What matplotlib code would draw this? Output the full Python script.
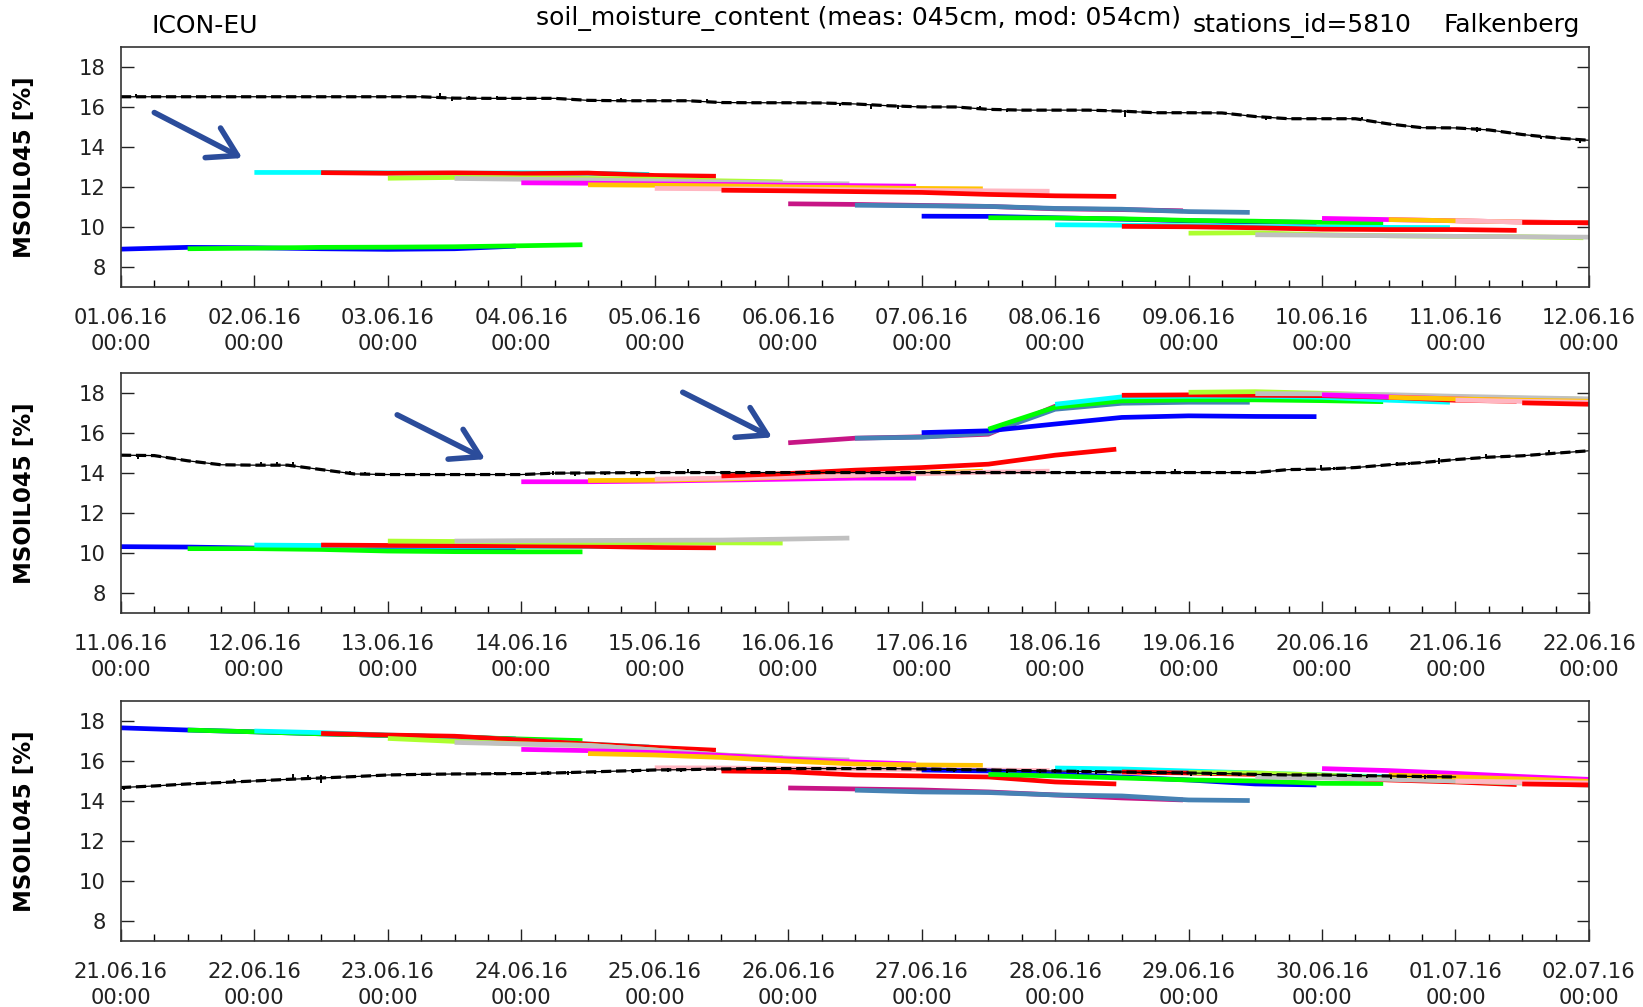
import numpy as np
import matplotlib
matplotlib.use('Agg')
import matplotlib.pyplot as plt
import matplotlib.dates as mdates

plt.rcParams['font.family'] = 'DejaVu Sans'

# colour of a forecast run, cycling every 12 runs (runs every 12 h)
run_colors = ['#0000ff', '#00ff00', '#00ffff', '#ff0000', '#adff2f', '#c0c0c0',
              '#ff00ff', '#ffc400', '#ffb6c1', '#ff0000', '#c71585', '#4682b4']
lead_hours = [0, 12, 24, 36, 48, 60, 71]
panel_starts = ['2016-06-01', '2016-06-11', '2016-06-21']

# station measurements, every 6 h from panel start
meas_p1 = [16.51, 16.51, 16.51, 16.51, 16.51, 16.51, 16.51, 16.51, 16.51, 16.51,
           16.44, 16.43, 16.43, 16.43, 16.33, 16.31, 16.31, 16.31, 16.22, 16.21,
           16.21, 16.20, 16.15, 16.06, 16.00, 16.00, 15.88, 15.84, 15.84, 15.84,
           15.79, 15.71, 15.71, 15.70, 15.52, 15.41, 15.41, 15.41, 15.15, 14.96,
           14.95, 14.85, 14.62, 14.45, 14.33]
meas_p2 = [14.90, 14.88, 14.62, 14.42, 14.40, 14.40, 14.18, 13.96, 13.93, 13.93,
           13.93, 13.93, 13.93, 14.00, 14.01, 14.02, 14.03, 14.03, 14.03, 14.03,
           14.03, 14.03, 14.03, 14.03, 14.03, 14.03, 14.03, 14.03, 14.03, 14.03,
           14.03, 14.03, 14.03, 14.03, 14.03, 14.18, 14.20, 14.28, 14.42, 14.53,
           14.68, 14.80, 14.87, 15.00, 15.12]
meas_p3 = [14.67, 14.75, 14.85, 14.92, 15.00, 15.08, 15.15, 15.22, 15.30, 15.33,
           15.35, 15.36, 15.37, 15.40, 15.45, 15.50, 15.55, 15.57, 15.60, 15.62,
           15.62, 15.62, 15.62, 15.62, 15.60, 15.57, 15.55, 15.52, 15.50, 15.47,
           15.45, 15.42, 15.40, 15.37, 15.33, 15.30, 15.30, 15.27, 15.25, 15.22,
           15.20]

# short spikes in the measured series: (day, low, high)
spikes_p1 = [(0.11, 16.51, 16.63), (2.39, 16.51, 16.68), (2.48, 16.31, 16.51),
             (2.61, 16.43, 16.56), (2.82, 16.43, 16.53), (3.75, 16.31, 16.46),
             (4.39, 16.26, 16.39), (5.39, 16.06, 16.22), (5.62, 15.92, 16.17),
             (5.82, 15.92, 16.09), (6.44, 15.90, 16.05), (6.64, 15.76, 15.88),
             (7.52, 15.50, 15.84), (8.58, 15.34, 15.50), (9.30, 15.35, 15.50),
             (10.16, 14.75, 15.00), (10.64, 14.38, 14.55), (10.93, 14.21, 14.38)]
spikes_p2 = [(0.13, 14.70, 14.90), (1.05, 14.40, 14.55), (1.17, 14.40, 14.55),
             (1.29, 14.38, 14.55), (1.72, 13.90, 14.10), (1.83, 13.90, 14.05),
             (3.24, 13.93, 14.10), (3.40, 13.87, 14.05), (3.63, 13.93, 14.08),
             (3.87, 13.87, 14.12), (4.25, 14.03, 14.20), (7.90, 13.98, 14.20),
             (7.97, 13.98, 14.12), (8.99, 14.15, 14.40), (9.09, 14.15, 14.30),
             (9.56, 14.36, 14.58), (9.65, 14.40, 14.58), (9.88, 14.48, 14.75),
             (10.23, 14.75, 14.95), (10.70, 14.92, 15.15), (10.91, 15.00, 15.18)]
spikes_p3 = [(0.02, 14.53, 14.70), (0.23, 14.68, 14.82), (0.85, 14.92, 15.08),
             (1.29, 15.15, 15.37), (1.40, 15.15, 15.32), (1.50, 14.92, 15.30),
             (2.29, 15.25, 15.42), (2.50, 15.28, 15.42), (2.80, 15.28, 15.45),
             (3.00, 15.30, 15.45), (3.20, 15.30, 15.48), (3.35, 15.32, 15.50),
             (3.55, 15.35, 15.52), (3.84, 15.40, 15.60), (3.95, 15.43, 15.62),
             (4.10, 15.45, 15.65), (4.20, 15.45, 15.62), (4.45, 15.50, 15.70),
             (4.80, 15.55, 15.72), (4.95, 15.55, 15.70), (5.10, 15.55, 15.72),
             (5.30, 15.55, 15.72), (6.10, 15.48, 15.66), (6.24, 15.46, 15.64),
             (6.64, 15.42, 15.60), (6.89, 15.40, 15.58), (7.00, 15.38, 15.58),
             (7.17, 15.36, 15.55), (7.31, 15.35, 15.55), (7.95, 15.28, 15.48),
             (8.02, 15.27, 15.46), (8.17, 15.26, 15.45), (8.38, 15.25, 15.42),
             (9.34, 15.15, 15.32), (9.52, 15.12, 15.30), (9.77, 15.12, 15.28)]

# ICON-EU forecasts, one list per run (runs every 12 h, values every 12 h lead)
runs_p1 = [
    [8.88, 8.97, 8.95, 8.90, 8.87, 8.90, 9.03],
    [8.90, 8.93, 8.97, 8.98, 9.00, 9.05, 9.10],
    [12.72, 12.72, 12.70, 12.68, 12.70, 12.68, 12.62],
    [12.71, 12.68, 12.70, 12.66, 12.69, 12.57, 12.53],
    [12.43, 12.47, 12.45, 12.42, 12.38, 12.30, 12.25],
    [12.42, 12.38, 12.35, 12.30, 12.24, 12.18, 12.15],
    [12.20, 12.18, 12.15, 12.12, 12.08, 12.06, 12.03],
    [12.10, 12.08, 12.05, 12.00, 11.96, 11.92, 11.90],
    [11.92, 11.90, 11.88, 11.85, 11.82, 11.80, 11.78],
    [11.83, 11.80, 11.76, 11.72, 11.62, 11.55, 11.52],
    [11.15, 11.12, 11.07, 11.02, 10.90, 10.86, 10.80],
    [11.08, 11.05, 11.02, 10.92, 10.88, 10.76, 10.72],
    [10.53, 10.52, 10.45, 10.38, 10.30, 10.25, 10.22],
    [10.45, 10.44, 10.40, 10.32, 10.28, 10.22, 10.20],
    [10.10, 10.08, 10.05, 10.00, 9.98, 9.97, 9.96],
    [10.02, 10.00, 9.95, 9.88, 9.86, 9.86, 9.82],
    [9.68, 9.70, 9.60, 9.55, 9.52, 9.50, 9.45],
    [9.60, 9.58, 9.55, 9.52, 9.50, 9.48],
    [10.42, 10.36, 10.30, 10.24, 10.20],
    [10.36, 10.30, 10.24, 10.20],
    [10.30, 10.24, 10.20],
    [10.22, 10.20],
]
runs_p2 = [
    [10.32, 10.30, 10.25, 10.22, 10.22, 10.22, 10.22],
    [10.22, 10.22, 10.18, 10.10, 10.07, 10.06, 10.06],
    [10.40, 10.38, 10.35, 10.33, 10.33, 10.33, 10.32],
    [10.40, 10.38, 10.37, 10.36, 10.34, 10.28, 10.26],
    [10.60, 10.58, 10.55, 10.53, 10.52, 10.51, 10.50],
    [10.60, 10.62, 10.63, 10.64, 10.65, 10.70, 10.75],
    [13.57, 13.57, 13.60, 13.65, 13.70, 13.75, 13.75],
    [13.63, 13.65, 13.70, 13.80, 13.90, 14.00, 14.10],
    [13.70, 13.75, 13.82, 13.90, 13.97, 14.05, 14.10],
    [13.86, 13.98, 14.15, 14.28, 14.45, 14.90, 15.20],
    [15.52, 15.75, 15.82, 15.95, 17.35, 17.62, 17.68],
    [15.75, 15.80, 16.00, 17.20, 17.50, 17.55, 17.55],
    [16.03, 16.12, 16.46, 16.79, 16.87, 16.84, 16.83],
    [16.20, 17.30, 17.62, 17.67, 17.67, 17.63, 17.58],
    [17.45, 17.82, 17.85, 17.85, 17.80, 17.65, 17.55],
    [17.90, 17.92, 17.90, 17.88, 17.80, 17.65, 17.60],
    [18.05, 18.08, 18.00, 17.90, 17.80, 17.75, 17.70],
    [17.98, 17.97, 17.93, 17.85, 17.78, 17.72],
    [17.92, 17.82, 17.72, 17.62, 17.55],
    [17.80, 17.72, 17.65, 17.60],
    [17.66, 17.60, 17.55],
    [17.52, 17.45],
]
runs_p3 = [
    [17.66, 17.55, 17.46, 17.36, 17.28, 17.20, 17.10],
    [17.55, 17.46, 17.36, 17.28, 17.20, 17.10, 17.02],
    [17.50, 17.42, 17.30, 17.20, 17.05, 16.85, 16.70],
    [17.38, 17.30, 17.24, 17.05, 16.85, 16.68, 16.54],
    [17.13, 16.98, 16.86, 16.78, 16.55, 16.30, 16.17],
    [16.93, 16.85, 16.78, 16.55, 16.30, 16.15, 16.05],
    [16.58, 16.52, 16.42, 16.28, 16.10, 15.95, 15.85],
    [16.37, 16.30, 16.18, 16.00, 15.85, 15.80, 15.78],
    [15.66, 15.65, 15.62, 15.60, 15.57, 15.55, 15.52],
    [15.50, 15.46, 15.30, 15.25, 15.20, 14.95, 14.85],
    [14.65, 14.60, 14.55, 14.45, 14.30, 14.15, 14.05],
    [14.54, 14.45, 14.42, 14.30, 14.25, 14.05, 14.02],
    [15.55, 15.50, 15.35, 15.20, 15.05, 14.85, 14.80],
    [15.33, 15.25, 15.15, 15.05, 15.00, 14.88, 14.87],
    [15.65, 15.60, 15.50, 15.40, 15.30, 15.20, 15.10],
    [15.45, 15.40, 15.33, 15.20, 15.05, 14.95, 14.82],
    [15.42, 15.40, 15.30, 15.15, 15.00, 14.90, 14.85],
    [15.20, 15.15, 15.08, 15.00, 14.90, 14.78],
    [15.62, 15.52, 15.38, 15.22, 15.08],
    [15.30, 15.20, 15.10, 14.98],
    [15.00, 14.95, 14.90],
    [14.85, 14.80],
]

# arrows: (panel, tail day, tail value, tip day, tip value)
arrows = [(0, 0.25, 15.72, 0.91, 13.44),
          (1, 2.07, 16.92, 2.73, 14.70),
          (1, 4.21, 18.05, 4.88, 15.79)]

arrow_color = '#2b4c9b'


def at_day(t0, day):
    return t0 + np.timedelta64(int(round(day * 1440)), 'm')


def draw_panel(ax, start, meas, runs, spikes):
    t0 = np.datetime64(start + 'T00:00')
    for i, vals in enumerate(runs):
        hours = 12 * i + np.array(lead_hours[:len(vals)])
        t = t0 + hours.astype('timedelta64[h]')
        ax.plot(t, vals, color=run_colors[i % 12], lw=3.4, solid_capstyle='butt')
    tm = t0 + (6 * np.arange(len(meas))).astype('timedelta64[h]')
    ax.plot(tm, meas, color='black', lw=0.9)
    ax.plot(tm, meas, color='black', lw=2.3, ls=(0, (3.2, 1.5)))
    for d, lo, hi in spikes:
        ax.vlines(at_day(t0, d), lo, hi, color='black', lw=1.4)

    ax.set_xlim(t0, t0 + np.timedelta64(11, 'D'))
    ax.set_ylim(7, 19)
    ax.set_yticks([8, 10, 12, 14, 16, 18])
    ax.xaxis.set_major_locator(mdates.DayLocator())
    ax.xaxis.set_minor_locator(mdates.HourLocator(byhour=[6, 12, 18]))
    ax.xaxis.set_major_formatter(mdates.DateFormatter('%d.%m.%y\n%H:%M'))
    ax.tick_params(axis='x', which='major', direction='in', length=9, width=1,
                   pad=15, labelsize=15.2, colors='#222222', top=False)
    ax.tick_params(axis='x', which='minor', direction='in', length=4.8, width=1,
                   top=False)
    ax.tick_params(axis='y', direction='in', length=9, width=1, pad=11,
                   labelsize=15.2, colors='#222222', left=True, right=True)
    for sp in ax.spines.values():
        sp.set_color('#333333')
        sp.set_linewidth(1.2)
    ax.set_ylabel('MSOIL045 [%]', fontsize=16.5, fontweight='bold', va='center')
    ax.yaxis.set_label_coords(-0.0654, 0.5)
    for lbl in ax.get_xticklabels():
        lbl.set_linespacing(1.38)
    return t0


fig = plt.figure(figsize=(16.43, 10.07), dpi=100)
bottoms = [0.7153, 0.3913, 0.0658]
axes = [fig.add_axes([0.0736, b, 0.8935, 0.238]) for b in bottoms]

all_meas = [meas_p1, meas_p2, meas_p3]
all_runs = [runs_p1, runs_p2, runs_p3]
all_spikes = [spikes_p1, spikes_p2, spikes_p3]
starts = []
for ax, s, m, r, sp in zip(axes, panel_starts, all_meas, all_runs, all_spikes):
    starts.append(draw_panel(ax, s, m, r, sp))

for p, d0, v0, d1, v1 in arrows:
    t0 = starts[p]
    axes[p].annotate('', xy=(at_day(t0, d1), v1), xytext=(at_day(t0, d0), v0),
                     arrowprops=dict(arrowstyle='->,head_length=1.0,head_width=0.6',
                                     color=arrow_color, lw=4, mutation_scale=20,
                                     shrinkA=0, shrinkB=0))

fig.text(205 / 1643, 1 - 33 / 1007, 'ICON-EU', ha='center', va='baseline', fontsize=18)
fig.text(536 / 1643, 1 - 25 / 1007, 'soil_moisture_content (meas: 045cm, mod: 054cm)',
         ha='left', va='baseline', fontsize=18)
fig.text(1193 / 1643, 1 - 31.7 / 1007, 'stations_id=5810', ha='left', va='baseline',
         fontsize=18)
fig.text(1444 / 1643, 1 - 31.7 / 1007, 'Falkenberg', ha='left', va='baseline',
         fontsize=18)

fig.savefig('out.png', dpi=100)
